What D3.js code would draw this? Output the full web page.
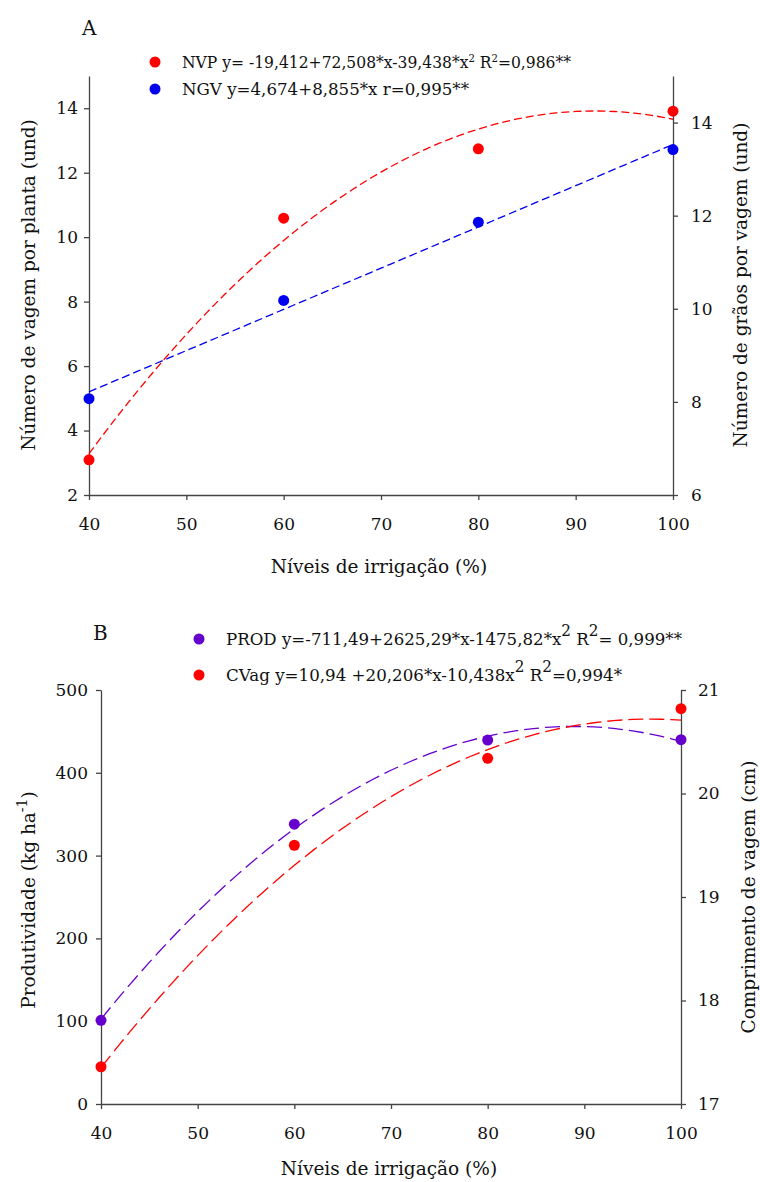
<!DOCTYPE html>
<html>
<head>
<meta charset="utf-8">
<script src="https://cdn.jsdelivr.net/npm/d3@7"></script>
<style>
	body { margin: 0; background: #fff; }
	svg text { font-family: 'DejaVu Serif', serif; fill: #111; }
	.axis path, .axis line { stroke: #444; stroke-width: 1.3; }
	.axis text { font-size: 17px; font-family: 'DejaVu Serif', serif; fill: #111; }
	.title { font-size: 18.5px; }
</style>
</head>
<body>
<svg id="chart" width="760" height="1182"></svg>
<script>
// irrigation levels (%)
const levels = [40, 60, 80, 100];
const xTicks = [40, 50, 60, 70, 80, 90, 100];

// panel A
const nvp = [3.09, 10.59, 12.74, 13.91];
const ngv = [8.07, 10.18, 11.86, 13.42];
const nvpCoef = [-19.412, 72.508, -39.438];
const ngvCoef = [4.674, 8.855, 0];
const leftTicksA = [2, 4, 6, 8, 10, 12, 14];
const rightTicksA = [6, 8, 10, 12, 14];

// panel B
const prod = [101, 338, 439.5, 440];
const cvag = [17.36, 19.5, 20.34, 20.82];
const prodCoef = [-711.49, 2625.29, -1475.82];
const cvagCoef = [10.94, 20.206, -10.438];
const leftTicksB = [0, 100, 200, 300, 400, 500];
const rightTicksB = [17, 18, 19, 20, 21];

let svg = d3.select('#chart');

function fitted(coef) {
	// regression with x as fraction (0.4 .. 1.0)
	return d3.range(40, 100.5, 1).map(function(l) {
		let x = l / 100;
		return [l, coef[0] + coef[1] * x + coef[2] * x * x];
	});
}

function panel(p) {
	let x = d3.scaleLinear().domain([40, 100]).range([p.left, p.right]);
	let yl = d3.scaleLinear().domain(p.leftDomain).range([p.bottom, p.top]);
	let yr = d3.scaleLinear().domain(p.rightDomain).range([p.bottom, p.top]);
	let g = svg.append('g');

	g.append('g').attr('class', 'axis')
		.attr('transform', 'translate(0,' + p.bottom + ')')
		.call(d3.axisBottom(x).tickValues(xTicks).tickSize(5).tickSizeOuter(0).tickPadding(p.xPad))
	g.append('g').attr('class', 'axis')
		.attr('transform', 'translate(' + p.left + ',0)')
		.call(d3.axisLeft(yl).tickValues(p.leftTicks).tickFormat(d3.format('d')).tickSize(5).tickSizeOuter(0).tickPadding(p.lPad))
	g.append('g').attr('class', 'axis')
		.attr('transform', 'translate(' + p.right + ',0)')
		.call(d3.axisRight(yr).tickValues(p.rightTicks).tickFormat(d3.format('d')).tickSize(5).tickSizeOuter(0).tickPadding(p.rPad))

	// trend lines + points
	p.series.forEach(function(s) {
		let y = s.axis == 'left' ? yl : yr;
		let line = d3.line().x(d => x(d[0])).y(d => y(d[1]));
		g.append('path')
			.attr('d', line(fitted(s.coef)))
			.style('fill', 'none')
			.style('stroke', s.color)
			.style('stroke-width', 1.3)
			.style('stroke-dasharray', p.dash);
		g.selectAll(null)
			.data(levels.map((l, i) => [l, s.values[i]]))
			.enter()
			.append('circle')
			.attr('cx', d => x(d[0]))
			.attr('cy', d => y(d[1]))
			.attr('r', 5.5)
			.style('fill', s.color);
	})

	// legend
	p.series.forEach(function(s, i) {
		let ly = p.legendY + i * p.legendStep;
		g.append('circle').attr('cx', p.legendX).attr('cy', ly - 6).attr('r', 5.5).style('fill', s.color);
		let t = g.append('text')
			.attr('x', p.legendX + 27).attr('y', ly)
			.style('font-size', p.legendSize + 'px')
			.attr('textLength', s.width).attr('lengthAdjust', 'spacingAndGlyphs');
		let back = 0;
		s.label.forEach(function(part) {
			if(typeof part === 'object') {
				t.append('tspan').attr('dy', back - p.supShift).style('font-size', p.supSize + 'px').text(part.sup);
				back = p.supShift;
			} else {
				t.append('tspan').attr('dy', back).text(part);
				back = 0;
			}
		})
	})

	// titles
	g.append('text').attr('x', p.letterX).attr('y', p.letterY).style('font-size', '20px').text(p.letter);
	g.append('text').attr('class', 'title')
		.attr('text-anchor', 'middle')
		.attr('x', (p.left + p.right) / 2 - 2).attr('y', p.bottom + p.xTitleOff)
		.text('Níveis de irrigação (%)');
	g.append('text').attr('class', 'title')
		.attr('text-anchor', 'middle')
		.attr('transform', 'translate(' + p.leftTitleX + ',' + p.leftTitleY + ') rotate(-90)')
		.call(p.leftTitle);
	g.append('text').attr('class', 'title')
		.attr('text-anchor', 'middle')
		.attr('transform', 'translate(' + p.rightTitleX + ',' + p.rightTitleY + ') rotate(-90)')
		.text(p.rightTitle);
}

panel({
	left: 89, right: 673, top: 76, bottom: 495,
	leftDomain: [2, 15], rightDomain: [6, 15],
	leftTicks: leftTicksA, rightTicks: rightTicksA,
	xPad: 18, lPad: 6, rPad: 13, xTitleOff: 78,
	dash: '8,4',
	letter: 'A', letterX: 82, letterY: 35,
	legendX: 155, legendY: 68, legendStep: 27, legendSize: 17, supShift: 6, supSize: 11,
	leftTitleX: 35, leftTitleY: 285, rightTitleX: 747, rightTitleY: 285,
	leftTitle: function(t) { t.text('Número de vagem por planta (und)') },
	rightTitle: 'Número de grãos por vagem (und)',
	series: [
		{ values: nvp, coef: nvpCoef, color: '#ff0000', axis: 'left', width: 389,
			label: ['NVP y= -19,412+72,508*x-39,438*x', {sup: '2'}, ' R', {sup: '2'}, '=0,986**'] },
		{ values: ngv, coef: ngvCoef, color: '#0000ee', axis: 'right', width: 287,
			label: ['NGV y=4,674+8,855*x r=0,995**'] }
	]
})

panel({
	left: 101, right: 681, top: 690, bottom: 1104,
	leftDomain: [0, 500], rightDomain: [17, 21],
	leftTicks: leftTicksB, rightTicks: rightTicksB,
	xPad: 18, lPad: 8, rPad: 12, xTitleOff: 71,
	dash: '15,6',
	letter: 'B', letterX: 93, letterY: 640,
	legendX: 199, legendY: 645, legendStep: 36, legendSize: 17.5, supShift: 9, supSize: 16,
	leftTitleX: 35, leftTitleY: 900, rightTitleX: 755, rightTitleY: 897,
	leftTitle: function(t) {
		t.append('tspan').text('Produtividade (kg ha');
		t.append('tspan').attr('dy', -8).style('font-size', '14px').text('-1');
		t.append('tspan').attr('dy', 8).text(')');
	},
	rightTitle: 'Comprimento de vagem (cm)',
	series: [
		{ values: prod, coef: prodCoef, color: '#6600cc', axis: 'left', width: 456,
			label: ['PROD y=-711,49+2625,29*x-1475,82*x', {sup: '2'}, ' R', {sup: '2'}, '= 0,999**'] },
		{ values: cvag, coef: cvagCoef, color: '#ff0000', axis: 'right', width: 396,
			label: ['CVag y=10,94 +20,206*x-10,438x', {sup: '2'}, ' R', {sup: '2'}, '=0,994*'] }
	]
})
</script>
</body>
</html>
